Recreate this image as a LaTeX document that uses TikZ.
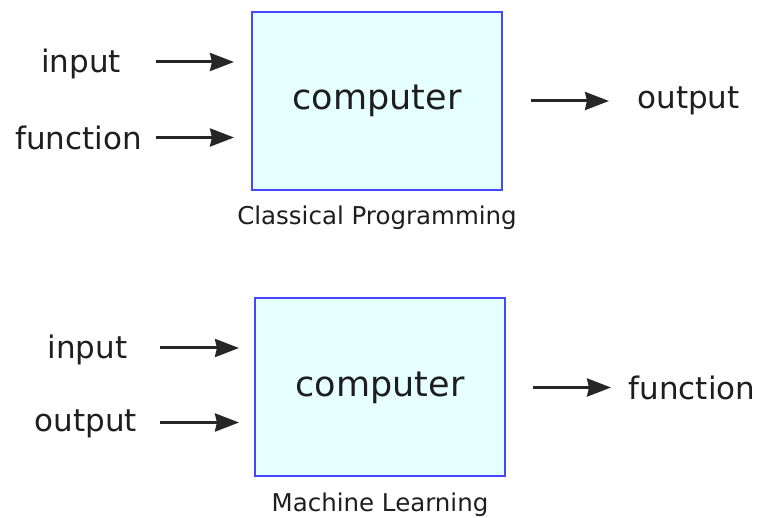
\documentclass[tikz,border=0pt]{standalone}
\usepackage{fontspec}
\setmainfont{DejaVu Sans}
\usetikzlibrary{arrows.meta}
\definecolor{boxfill}{RGB}{230,255,255}
\definecolor{boxline}{RGB}{70,70,255}
\definecolor{ink}{RGB}{30,30,30}
\tikzset{
	machine/.style={rectangle, draw=boxline, fill=boxfill, line width=2pt, minimum width=250pt, minimum height=178pt, font=\fontsize{35}{40}\selectfont, text=ink, inner sep=0pt},
	word/.style={font=\fontsize{31}{36}\selectfont, text=ink, inner sep=0pt},
	caption/.style={font=\fontsize{24.5}{28}\selectfont, text=ink, inner sep=0pt},
	flow/.style={-{Stealth[length=24pt,width=18pt,inset=2pt]}, line width=3pt, draw=black!85},
}
\begin{document}
\begin{tikzpicture}[x=1pt, y=-1pt, node distance=117pt]
	\useasboundingbox[fill=white] (0,0) rectangle (758,518);

		\node(computer-1)[machine] at (377,101) {\raisebox{-2pt}{computer}};
		\node(computer-2)[machine] at (380,387.5) {\raisebox{-2pt}{computer}};

		\node(caption-1)[caption, below of=computer-1] {Classical Programming};
		\node(caption-2)[caption, below of=computer-2] {Machine Learning};

		\node(input-1)[word] at (81,63.5) {input};
		\node(function-1)[word] at (78.5,137.5) {function};
		\node(output-1)[word] at (688.5,101) {output};

		\node(input-2)[word] at (87.5,349.5) {input};
		\node(output-2)[word] at (86,424) {output};
		\node(function-2)[word] at (692,387.5) {function};

		% arrows into and out of the computers
		\draw[flow] ([xshift=-95pt,yshift=1.5pt]computer-1.west |- input-1) -- ([xshift=-17pt,yshift=1.5pt]computer-1.west |- input-1);
		\draw[flow] ([xshift=-95pt]computer-1.west |- function-1) -- ([xshift=-17pt]computer-1.west |- function-1);
		\draw[flow] ([xshift=28pt]computer-1.east) -- ([xshift=106pt]computer-1.east);

		\draw[flow] ([xshift=-94pt,yshift=1.5pt]computer-2.west |- input-2) -- ([xshift=-15pt,yshift=1.5pt]computer-2.west |- input-2);
		\draw[flow] ([xshift=-94pt,yshift=1.5pt]computer-2.west |- output-2) -- ([xshift=-15pt,yshift=1.5pt]computer-2.west |- output-2);
		\draw[flow] ([xshift=27pt]computer-2.east) -- ([xshift=105pt]computer-2.east);
	\end{tikzpicture}
\end{document}
